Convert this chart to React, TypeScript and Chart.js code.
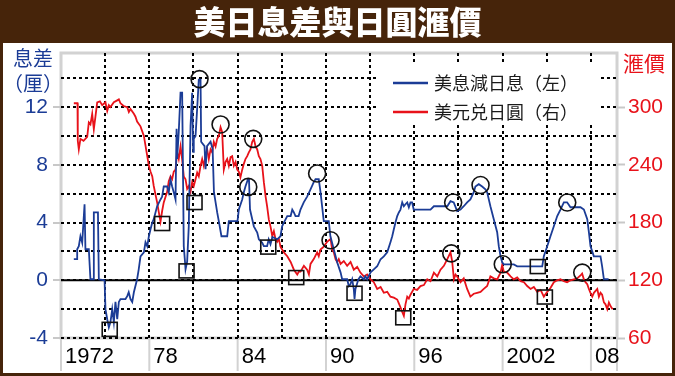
import React, { useEffect, useRef } from 'react';
import { Chart, registerables } from 'chart.js';

Chart.register(...registerables);

const TITLE = '美日息差與日圓滙價';
const LEFT_TITLE = ['息差', '（厘）'];
const RIGHT_TITLE = '滙價';
const LEGEND_LABELS = ['美息減日息（左）', '美元兑日圓（右）'];
const X_LABEL_YEARS = [1972, 1978, 1984, 1990, 1996, 2002, 2008];
const X_LABEL_TEXT = ['1972', '78', '84', '90', '96', '2002', '08'];
const X_GRID_YEARS = [1975, 1978, 1981, 1984, 1987, 1990, 1993, 1996, 1999, 2002, 2005, 2008];
const LEFT_GRID = [-4, -2, 0, 2, 4, 6, 8, 10, 12, 14];
const LEFT_LABELS = [-4, 0, 4, 8, 12];
const RIGHT_GRID = [60, 90, 120, 150, 180, 210, 240, 270, 300, 330];
const RIGHT_LABELS = [60, 120, 180, 240, 300];

// 美息減日息 (left axis, %)
const spreadYears = [
  1972.87, 1973.1, 1973.1, 1973.21, 1973.32, 1973.44, 1973.55, 1973.6, 1973.66, 1973.89,
  1974.0, 1974.17, 1974.23, 1974.23, 1974.51, 1974.57, 1974.96, 1975.02, 1975.14, 1975.25,
  1975.36, 1975.48, 1975.59, 1975.7, 1975.82, 1975.93, 1976.04, 1976.38, 1976.5, 1976.6,
  1976.72, 1976.84, 1976.95, 1977.17, 1977.28, 1977.4, 1977.63, 1977.74, 1977.86, 1977.97,
  1978.08, 1978.2, 1978.3, 1978.53, 1978.76, 1978.87, 1978.98, 1979.21, 1979.32, 1979.44,
  1979.55, 1979.66, 1979.78, 1979.85, 1979.89, 1980.0, 1980.12, 1980.23, 1980.34, 1980.41,
  1980.46, 1980.57, 1980.68, 1980.8, 1980.91, 1980.98, 1981.02, 1981.14, 1981.25, 1981.36,
  1981.48, 1981.52, 1981.75, 1981.82, 1981.92, 1982.16, 1982.3, 1982.39, 1982.61, 1982.72,
  1982.9, 1983.29, 1983.4, 1983.99, 1984.08, 1984.31, 1984.42, 1984.53, 1984.7, 1984.77,
  1984.84, 1984.94, 1985.1, 1985.33, 1985.44, 1985.67, 1985.78, 1986.0, 1986.11, 1986.23,
  1986.36, 1986.69, 1986.91, 1987.02, 1987.14, 1987.37, 1987.6, 1987.71, 1987.82, 1987.93,
  1988.14, 1988.27, 1988.49, 1988.72, 1988.95, 1989.17, 1989.29, 1989.51, 1989.63, 1989.74,
  1989.85, 1990.19, 1990.3, 1990.53, 1990.76, 1990.99, 1991.1, 1991.44, 1991.55, 1991.66,
  1991.78, 1991.89, 1991.94, 1992.0, 1992.2, 1992.34, 1992.57, 1992.68, 1992.8, 1993.03,
  1993.25, 1993.48, 1993.71, 1993.93, 1994.16, 1994.38, 1994.5, 1994.61, 1994.72, 1994.84,
  1994.95, 1995.06, 1995.18, 1995.29, 1995.4, 1995.52, 1995.63, 1995.74, 1995.85, 1995.96,
  1997.1, 1997.33, 1998.24, 1998.46, 1998.68, 1998.91, 1999.14, 1999.36, 1999.59, 1999.81,
  2000.04, 2000.15, 2000.38, 2000.61, 2000.83, 2000.95, 2001.17, 2001.4, 2001.63, 2001.74,
  2001.86, 2001.97, 2002.08, 2002.76, 2002.99, 2004.69, 2004.8, 2005.03, 2005.25, 2005.48,
  2005.71, 2005.93, 2006.16, 2006.38, 2006.61, 2007.29, 2007.52, 2007.75, 2007.86, 2007.97,
  2008.2, 2008.65, 2008.76, 2008.88, 2009.2,
];
const spreadValues = [
  1.46, 1.46, 2.15, 2.36, 3.05, 2.6, 4.44, 5.27, 2.15, 2.15,
  0.07, 0.07, 0.07, 4.7, 4.7, 0.07, 0.0, -2.0, -2.7, -3.26,
  -2.9, -2.0, -2.9, -1.5, -2.7, -1.5, -1.3, -1.3, -1.1, -0.83,
  -1.3, -1.5, -0.83, 0.07, 0.76, 1.66, 1.94, 2.64, 2.36, 3.05,
  3.54, 4.0, 4.23, 5.13, 5.6, 5.8, 6.5, 6.5, 6.1, 7.0,
  6.5, 6.1, 5.6, 10.5, 8.4, 10.3, 13.0, 13.0, 2.36, 1.46,
  0.76, 1.3, 3.74, 10.7, 13.0, 8.9, 9.8, 10.0, 11.9, 13.9,
  13.9, 9.6, 9.3, 7.7, 9.3, 9.6, 9.1, 6.1, 4.7, 4.1,
  3.05, 3.05, 4.1, 4.1, 4.9, 5.6, 6.1, 6.5, 7.0, 7.0,
  4.9, 4.45, 3.74, 3.3, 2.84, 2.6, 2.36, 2.36, 2.84, 2.5,
  3.0, 2.84, 3.05, 3.74, 4.0, 4.45, 4.45, 4.9, 4.7, 4.45,
  4.45, 4.9, 5.4, 5.8, 6.3, 6.8, 7.0, 7.0, 6.1, 5.1,
  4.1, 4.1, 3.05, 2.15, 1.25, 0.55, 0.07, 0.07, -0.4, -0.28,
  0.07, -0.62, -1.3, -0.62, 0.07, 0.28, 0.07, 0.28, 0.07, 0.55,
  0.76, 0.97, 1.46, 1.66, 1.94, 2.64, 3.05, 3.54, 4.0, 4.45,
  4.7, 4.9, 5.4, 5.13, 5.27, 5.4, 5.06, 5.4, 5.4, 4.9,
  4.9, 5.13, 5.13, 5.48, 5.4, 4.8, 4.9, 5.13, 5.4, 5.6,
  6.1, 6.5, 6.66, 6.5, 6.3, 6.1, 5.13, 4.23, 3.33, 2.36,
  1.66, 1.25, 1.1, 1.1, 0.97, 0.97, 1.66, 2.36, 3.05, 3.74,
  4.45, 4.9, 5.4, 5.4, 5.06, 5.06, 4.9, 4.23, 3.33, 2.36,
  1.66, 1.66, 0.97, 0.07, 0.07,
];

// 美元兑日圓 (right axis, yen per dollar)
const fxYears = [
  1972.87, 1973.12, 1973.14, 1973.21, 1973.32, 1973.53, 1973.78, 1973.89, 1974.0, 1974.12,
  1974.23, 1974.34, 1974.46, 1974.64, 1974.8, 1975.02, 1975.14, 1975.25, 1975.36, 1975.59,
  1975.82, 1975.93, 1976.04, 1976.27, 1976.5, 1976.61, 1976.72, 1976.95, 1977.06, 1977.17,
  1977.4, 1977.63, 1977.86, 1977.97, 1978.08, 1978.2, 1978.3, 1978.42, 1978.53, 1978.64,
  1978.76, 1978.87, 1978.98, 1979.21, 1979.32, 1979.44, 1979.55, 1979.66, 1979.78, 1979.89,
  1980.0, 1980.12, 1980.23, 1980.34, 1980.46, 1980.57, 1980.68, 1980.8, 1980.91, 1981.02,
  1981.14, 1981.25, 1981.36, 1981.48, 1981.59, 1981.7, 1981.82, 1981.93, 1982.04, 1982.16,
  1982.27, 1982.38, 1982.5, 1982.61, 1982.72, 1982.84, 1982.95, 1983.06, 1983.18, 1983.29,
  1983.4, 1983.52, 1983.63, 1983.74, 1983.86, 1983.97, 1984.08, 1984.19, 1984.31, 1984.42,
  1984.53, 1984.65, 1984.76, 1984.87, 1984.99, 1985.1, 1985.22, 1985.33, 1985.44, 1985.55,
  1985.67, 1985.78, 1985.9, 1986.0, 1986.12, 1986.23, 1986.35, 1986.46, 1986.57, 1986.69,
  1986.8, 1986.91, 1987.14, 1987.37, 1987.6, 1987.82, 1988.05, 1988.16, 1988.27, 1988.5,
  1988.72, 1988.84, 1988.95, 1989.17, 1989.4, 1989.51, 1989.63, 1989.85, 1990.08, 1990.31,
  1990.42, 1990.53, 1990.65, 1990.76, 1990.87, 1990.99, 1991.21, 1991.44, 1991.67, 1991.89,
  1992.12, 1992.34, 1992.57, 1992.8, 1993.03, 1993.25, 1993.48, 1993.71, 1993.93, 1994.16,
  1994.38, 1994.61, 1994.84, 1994.95, 1995.06, 1995.18, 1995.29, 1995.4, 1995.52, 1995.63,
  1995.74, 1995.96, 1996.19, 1996.42, 1996.65, 1996.88, 1997.1, 1997.33, 1997.56, 1997.78,
  1998.01, 1998.24, 1998.46, 1998.57, 1998.69, 1998.8, 1998.91, 1999.14, 1999.36, 1999.59,
  1999.81, 2000.04, 2000.27, 2000.5, 2000.72, 2000.95, 2001.17, 2001.4, 2001.63, 2001.86,
  2001.97, 2002.08, 2002.31, 2002.54, 2002.76, 2002.99, 2003.22, 2003.45, 2003.67, 2003.9,
  2004.12, 2004.35, 2004.58, 2004.8, 2005.03, 2005.25, 2005.48, 2005.71, 2005.93, 2006.16,
  2006.38, 2006.61, 2006.84, 2007.06, 2007.29, 2007.4, 2007.52, 2007.63, 2007.75, 2007.86,
  2007.97, 2008.09, 2008.2, 2008.43, 2008.54, 2008.65, 2008.76, 2008.88, 2008.99, 2009.11,
  2009.22, 2009.34, 2009.47,
];
const fxValues = [
  304, 304, 265, 256, 267, 265, 269, 284, 282, 293,
  277, 290, 305, 306, 302, 305, 296, 302, 300, 305,
  307, 308, 304, 301, 300, 295, 298, 293, 290, 285,
  280, 270, 249, 239, 233, 228, 218, 209, 201, 191,
  181, 192, 201, 212, 223, 228, 225, 233, 235, 253,
  246, 259, 246, 228, 225, 215, 218, 212, 222, 218,
  225, 232, 228, 239, 246, 239, 249, 256, 246, 256,
  253, 264, 259, 267, 270, 279, 274, 235, 243, 246,
  239, 248, 249, 239, 243, 235, 233, 227, 235, 241,
  246, 249, 253, 256, 264, 267, 259, 256, 249, 246,
  239, 222, 207, 197, 183, 176, 166, 171, 163, 160,
  163, 155, 149, 145, 139, 131, 126, 129, 129, 135,
  131, 126, 137, 142, 149, 145, 152, 155, 160, 163,
  152, 149, 142, 139, 142, 137, 140, 135, 139, 131,
  134, 128, 124, 126, 121, 118, 111, 113, 107, 108,
  103, 102, 100, 96, 92, 87, 83, 95, 103, 101,
  105, 111, 110, 114, 115, 121, 119, 128, 124, 131,
  135, 142, 149, 140, 121, 126, 124, 118, 122, 111,
  103, 106, 107, 108, 111, 114, 124, 122, 121, 128,
  136, 129, 128, 124, 121, 123, 119, 118, 114, 111,
  113, 108, 110, 103, 108, 112, 118, 120, 121, 119,
  118, 120, 121, 122, 125, 127, 121, 118, 116, 111,
  107, 103, 107, 111, 103, 107, 105, 97, 95, 90,
  97, 93, 90,
];

// annotation marks: circles (peaks) and squares (troughs)
const circleYears = [1981.41, 1982.84, 1985.06, 1984.72, 1989.4, 1990.31, 1998.51, 1998.64, 2000.5, 2002.01, 2006.39, 2007.41];
const circleValues = [13.94, 282, 267, 6.47, 7.4, 161.6, 148, 5.39, 6.6, 136.6, 5.39, 128];
const circleAxes = ['y', 'y1', 'y1', 'y', 'y', 'y1', 'y1', 'y', 'y', 'y1', 'y', 'y1'];
const squareYears = [1975.31, 1978.87, 1980.53, 1981.07, 1986.08, 1987.98, 1991.94, 1995.25, 2004.39, 2004.87];
const squareValues = [-3.4, 179, 0.65, 200.8, 2.3, 122.8, -0.9, 81, 0.95, 102.6];
const squareAxes = ['y', 'y1', 'y', 'y1', 'y', 'y1', 'y', 'y1', 'y', 'y1'];

const BLUE = '#1b3c96';
const RED = '#e8121a';
const BROWN = '#46240a';
const CJK = '"Noto Sans CJK TC", "Noto Sans CJK SC", sans-serif';
const NUM = '"Liberation Sans", Arial, sans-serif';

const decor = {
  id: 'decor',
  beforeDraw(chart: any) {
    const { ctx, width, height, chartArea } = chart;
    ctx.save();
    ctx.fillStyle = BROWN;
    ctx.fillRect(0, 0, width, height);
    ctx.fillStyle = '#ffffff';
    ctx.fillRect(3, 43, width - 6, height - 46);
    // title
    ctx.fillStyle = '#ffffff';
    ctx.font = `900 32px ${CJK}`;
    ctx.textAlign = 'center';
    ctx.textBaseline = 'middle';
    ctx.fillText(TITLE, width / 2, 22);
    // plot frame (gray)
    ctx.strokeStyle = '#d2d2d2';
    ctx.lineWidth = 3;
    ctx.strokeRect(chartArea.left, chartArea.top, chartArea.right - chartArea.left, chartArea.bottom - chartArea.top);
    // gray separators under x axis
    const xs = chart.scales.x;
    ctx.lineWidth = 2;
    const sepX = X_LABEL_YEARS.map((y) => xs.getPixelForValue(y)).concat([chartArea.right]);
    sepX.forEach((px: number) => {
      ctx.beginPath();
      ctx.moveTo(px, chartArea.bottom);
      ctx.lineTo(px, height - 5);
      ctx.stroke();
    });
    ctx.restore();
  },
  beforeDatasetsDraw(chart: any) {
    const { ctx, chartArea } = chart;
    const y0 = chart.scales.y.getPixelForValue(0);
    ctx.save();
    ctx.strokeStyle = '#000';
    ctx.lineWidth = 2;
    ctx.beginPath();
    ctx.moveTo(chartArea.left, y0);
    ctx.lineTo(chartArea.right, y0);
    ctx.stroke();
    ctx.restore();
  },
  afterDatasetsDraw(chart: any) {
    const { ctx } = chart;
    const xs = chart.scales.x;
    ctx.save();
    ctx.strokeStyle = '#111';
    ctx.lineWidth = 1.6;
    circleYears.forEach((yr, i) => {
      const px = xs.getPixelForValue(yr);
      const py = chart.scales[circleAxes[i]].getPixelForValue(circleValues[i]);
      ctx.beginPath();
      ctx.arc(px, py, 8.5, 0, Math.PI * 2);
      ctx.stroke();
    });
    squareYears.forEach((yr, i) => {
      const px = xs.getPixelForValue(yr);
      const py = chart.scales[squareAxes[i]].getPixelForValue(squareValues[i]);
      ctx.strokeRect(px - 7.5, py - 7, 15, 14);
    });
    ctx.restore();
  },
  afterDraw(chart: any) {
    const { ctx, chartArea } = chart;
    const xs = chart.scales.x;
    ctx.save();
    // x labels
    ctx.fillStyle = '#000';
    ctx.font = `22px ${NUM}`;
    ctx.textAlign = 'left';
    ctx.textBaseline = 'middle';
    X_LABEL_YEARS.forEach((yr, i) => {
      ctx.fillText(X_LABEL_TEXT[i], xs.getPixelForValue(yr) + 4, chartArea.bottom + 19);
    });
    // axis titles
    ctx.textAlign = 'center';
    ctx.font = `20px ${CJK}`;
    ctx.fillStyle = BLUE;
    ctx.fillText(LEFT_TITLE[0], 33, 58);
    ctx.fillText(LEFT_TITLE[1], 33, 83);
    ctx.fillStyle = RED;
    ctx.font = `21px ${CJK}`;
    ctx.fillText(RIGHT_TITLE, 644, 63);
    // legend
    ctx.fillStyle = '#ffffff';
    ctx.fillRect(378, 65, 220, 57);
    const colors = [BLUE, RED];
    const rows = [83, 112];
    ctx.textAlign = 'left';
    ctx.font = `18px ${CJK}`;
    rows.forEach((ry, i) => {
      ctx.strokeStyle = colors[i];
      ctx.lineWidth = 2.5;
      ctx.beginPath();
      ctx.moveTo(393, ry);
      ctx.lineTo(428, ry);
      ctx.stroke();
      ctx.fillStyle = '#1a1a1a';
      ctx.fillText(LEGEND_LABELS[i], 434, ry);
    });
    ctx.restore();
  },
};

export default function App() {
  const ref = useRef<HTMLCanvasElement>(null);
  useEffect(() => {
    const canvas = ref.current;
    if (!canvas) return;
    const grayTick = (labels: number[]) => (c: any) =>
      c.tick && labels.includes(c.tick.value) ? '#c8c8c8' : 'rgba(0,0,0,0)';
    const chart = new Chart(canvas, {
      type: 'line',
      data: {
        datasets: [
          {
            label: LEGEND_LABELS[0],
            data: spreadYears.map((x, i) => ({ x, y: spreadValues[i] })),
            borderColor: BLUE,
            borderWidth: 1.8,
            pointRadius: 0,
            yAxisID: 'y',
            tension: 0,
          },
          {
            label: LEGEND_LABELS[1],
            data: fxYears.map((x, i) => ({ x, y: fxValues[i] })),
            borderColor: RED,
            borderWidth: 1.8,
            pointRadius: 0,
            yAxisID: 'y1',
            tension: 0,
          },
        ],
      },
      options: {
        responsive: false,
        animation: false,
        devicePixelRatio: 1,
        layout: { padding: { top: 53, left: 0, right: 0, bottom: 0 } },
        plugins: { legend: { display: false }, tooltip: { enabled: false }, title: { display: false } },
        scales: {
          x: {
            type: 'linear',
            min: 1972,
            max: 2009.77,
            afterBuildTicks: (s: any) => {
              s.ticks = X_GRID_YEARS.map((v) => ({ value: v }));
            },
            afterFit: (s: any) => {
              s.height = 38;
            },
            ticks: { display: false },
            grid: { color: '#000', lineWidth: 2, drawTicks: false },
            border: { display: false, dash: [3, 3] },
          },
          y: {
            type: 'linear',
            position: 'left',
            min: -4,
            max: 15.75,
            afterBuildTicks: (s: any) => {
              s.ticks = LEFT_GRID.map((v) => ({ value: v }));
            },
            afterFit: (s: any) => {
              s.width = 61;
            },
            ticks: {
              color: BLUE,
              font: { family: NUM, size: 21 },
              padding: 5,
              callback: (v: any) => (LEFT_LABELS.includes(Number(v)) ? String(v) : ''),
            },
            grid: {
              color: '#000',
              lineWidth: 2,
              drawTicks: true,
              tickLength: 8,
              tickWidth: 2,
              tickColor: grayTick(LEFT_LABELS),
            },
            border: { display: false, dash: [3, 3] },
          },
          y1: {
            type: 'linear',
            position: 'right',
            min: 60,
            max: 356.25,
            afterBuildTicks: (s: any) => {
              s.ticks = RIGHT_GRID.map((v) => ({ value: v }));
            },
            afterFit: (s: any) => {
              s.width = 58;
            },
            ticks: {
              color: RED,
              font: { family: NUM, size: 21 },
              padding: 3,
              callback: (v: any) => (RIGHT_LABELS.includes(Number(v)) ? String(v) : ''),
            },
            grid: {
              drawOnChartArea: false,
              drawTicks: true,
              tickLength: 8,
              tickWidth: 2,
              color: 'rgba(0,0,0,0)',
              tickColor: grayTick(RIGHT_LABELS),
            },
            border: { display: false },
          },
        },
      },
      plugins: [decor],
    } as any);
    return () => chart.destroy();
  }, []);
  return (
    <div style={{ position: 'fixed', left: 0, top: 0, width: 675, height: 376 }}>
      <canvas ref={ref} width={675} height={376} style={{ display: 'block', width: 675, height: 376 }} />
    </div>
  );
}
